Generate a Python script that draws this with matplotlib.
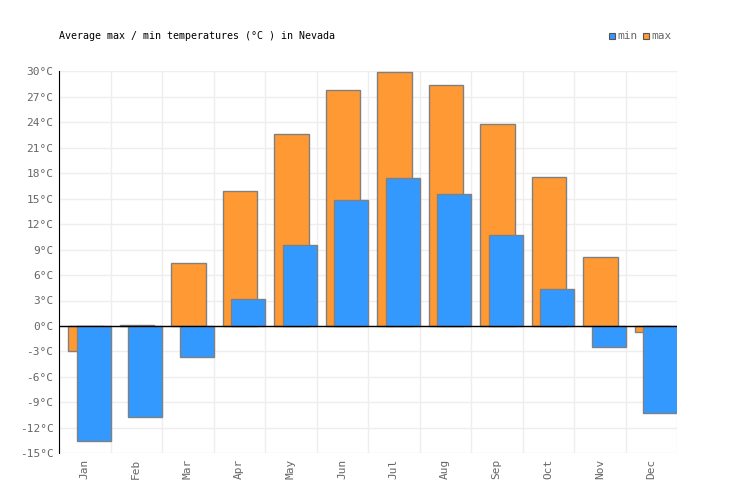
import numpy as np
import matplotlib
matplotlib.use("Agg")
import matplotlib.pyplot as plt
from matplotlib.patches import Rectangle

# data
months = ['Jan', 'Feb', 'Mar', 'Apr', 'May', 'Jun',
          'Jul', 'Aug', 'Sep', 'Oct', 'Nov', 'Dec']
t_max = [-3.0, 0.1, 7.4, 15.9, 22.6, 27.8, 29.9, 28.35, 23.8, 17.5, 8.1, -0.75]
t_min = [-13.5, -10.75, -3.7, 3.15, 9.5, 14.8, 17.4, 15.6, 10.7, 4.35, -2.5, -10.3]
yticks = np.arange(-15, 31, 3)

c_min = '#3399ff'
c_max = '#ff9933'
edge = '#808080'
txt = '#666666'

plt.rcParams['font.family'] = ['DejaVu Sans Mono']

fig = plt.figure(figsize=(7.36, 5.0), dpi=100)
ax = fig.add_axes([59/736, 1-453.3/500, 618/736, 382/500])

x = np.arange(len(months))
ax.bar(x + 0.015, t_max, width=0.67, color=c_max, edgecolor=edge, linewidth=1, zorder=2)
ax.bar(x + 0.17, t_min, width=0.66, color=c_min, edgecolor=edge, linewidth=1, zorder=3)

ax.set_xlim(-0.5, 11.5)
ax.set_ylim(-15, 30)
ax.set_yticks(yticks)
ax.set_yticklabels([f'{v}°C' for v in yticks], color=txt, fontsize=8)
ax.set_xticks(x)
ax.set_xticklabels(months, rotation=90, color=txt, fontsize=8)
ax.tick_params(axis='both', length=0, pad=4)

for v in yticks:
    ax.axhline(v, color='#eeeeee', lw=1, zorder=0)
for b in np.arange(-0.5, 12, 1):
    ax.axvline(b, color='#eeeeee', lw=1, zorder=0)
ax.axhline(0, color='black', lw=1, zorder=4)

for s in ['top', 'right', 'bottom']:
    ax.spines[s].set_visible(False)
ax.spines['left'].set_color('black')
ax.spines['left'].set_zorder(5)

fig.text(59/736, 1-36/500, 'Average max / min temperatures (°C ) in Nevada',
         fontsize=7.2, color='black', va='center', ha='left')

# legend
for px, col, lab in [(608.5, c_min, 'min'), (642.5, c_max, 'max')]:
    fig.patches.append(Rectangle((px/736, 1-39/500), 6/736, 6/500,
                                 transform=fig.transFigure, facecolor=col,
                                 edgecolor='#555555', lw=0.8))
    fig.text((px+9)/736, 1-36/500, lab, fontsize=8, color=txt, va='center', ha='left')

fig.savefig('out.png', dpi=100)
